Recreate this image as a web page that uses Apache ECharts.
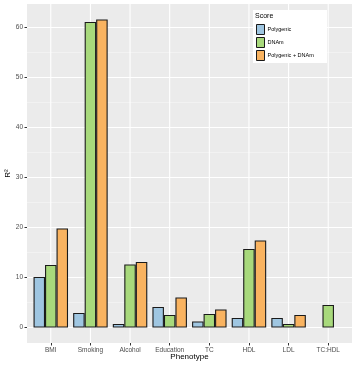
<!DOCTYPE html>
<html><head><meta charset="utf-8">
<script src="https://cdn.jsdelivr.net/npm/echarts@6/dist/echarts.min.js"></script>
<style>html,body{margin:0;padding:0;background:#fff}#c{width:360px;height:365px}</style>
</head><body><div id="c"></div>
<script>
const categories = ['BMI','Smoking','Alcohol','Education','TC','HDL','LDL','TC:HDL'];
const polygenic = [10.1, 2.9, 0.7, 4.1, 1.2, 1.9, 1.9, null];
const dnam = [12.5, 61.1, 12.6, 2.5, 2.7, 15.7, 0.7, 4.5];
const combined = [19.8, 61.6, 13.1, 6.0, 3.6, 17.4, 2.5, null];
const yTicks = [0, 10, 20, 30, 40, 50, 60];
const yMinor = [5, 15, 25, 35, 45, 55];
const seriesNames = ['Polygenic', 'DNAm', 'Polygenic + DNAm'];
const colors = ['#9FC6E1', '#A8D97C', '#F9B360'];

const chart = echarts.init(document.getElementById('c'), null, {renderer: 'canvas'});
const xIdx = categories.map((_, i) => i);
function toData(arr) { return arr.map((v, i) => [i, v]); }
const font = 'Liberation Sans, Arial, sans-serif';

function hLines(values, color, width) {
  return {
    type: 'custom', silent: true, z: 1, clip: false,
    data: values.map(v => [0, v]),
    encode: {x: 0, y: 1},
    renderItem: (params, api) => {
      const cs = params.coordSys;
      const y = api.coord([0, api.value(1)])[1];
      return {type: 'line', shape: {x1: cs.x, y1: y, x2: cs.x + cs.width, y2: y},
              style: {stroke: color, lineWidth: width}};
    }
  };
}
function vLines(values, color, width) {
  return {
    type: 'custom', silent: true, z: 1, clip: false,
    data: values.map(v => [v, 0]),
    encode: {x: 0, y: 1},
    renderItem: (params, api) => {
      const cs = params.coordSys;
      const x = api.coord([api.value(0), 0])[0];
      return {type: 'line', shape: {x1: x, y1: cs.y, x2: x, y2: cs.y + cs.height},
              style: {stroke: color, lineWidth: width}};
    }
  };
}

const series = [
  hLines(yMinor, '#F6F6F6', 0.6),
  hLines(yTicks, '#FFFFFF', 1.1),
  vLines(xIdx, '#FFFFFF', 1.1)
].concat([polygenic, dnam, combined].map((arr, k) => ({
  name: seriesNames[k],
  type: 'bar',
  data: toData(arr),
  barWidth: 11.5,
  barGap: '0%',
  itemStyle: {color: colors[k], borderColor: '#1a1a1a', borderWidth: 1.1},
  emphasis: {disabled: true},
  z: 3
})));

chart.setOption({
  animation: false,
  backgroundColor: '#fff',
  grid: {left: 27, right: 8, top: 4, bottom: 22, show: true, backgroundColor: '#EBEBEB', borderWidth: 0, outerBoundsMode: 'none', containLabel: false},
  xAxis: {
    type: 'value', min: -0.6, max: 7.6,
    axisLine: {show: false, onZero: false},
    axisTick: {show: true, length: 2.5, lineStyle: {color: '#333'}, customValues: xIdx},
    axisLabel: {customValues: xIdx, formatter: v => categories[Math.round(v)] || '', color: '#4D4D4D', fontSize: 6.5, fontFamily: font, margin: 4},
    splitLine: {show: false},
    name: 'Phenotype', nameLocation: 'middle', nameGap: 10, nameMoveOverlap: false,
    nameTextStyle: {color: '#000', fontSize: 8, fontFamily: font}
  },
  yAxis: {
    type: 'value', min: -3.1, max: 64.7,
    axisLine: {show: false, onZero: false},
    axisTick: {show: true, length: 2.5, lineStyle: {color: '#333'}, customValues: yTicks},
    axisLabel: {customValues: yTicks, color: '#4D4D4D', fontSize: 6.5, fontFamily: font, margin: 4},
    splitLine: {show: false},
    name: 'R²', nameLocation: 'middle', nameGap: 15, nameRotate: 90, nameMoveOverlap: false,
    nameTextStyle: {color: '#000', fontSize: 8, fontFamily: font}
  },
  legend: {
    orient: 'vertical', left: 253, top: 22,
    itemWidth: 8, itemHeight: 10, itemGap: 2,
    icon: 'rect',
    data: seriesNames,
    textStyle: {fontSize: 5.5, color: '#000', fontFamily: font, padding: [0, 0, 0, -2]},
    itemStyle: {borderColor: '#1a1a1a', borderWidth: 1},
    selectedMode: false,
    padding: [2, 4, 3, 3],
    z: 10
  },
  graphic: [
    {type: 'rect', left: 253, top: 10, shape: {width: 74, height: 53}, style: {fill: '#fff'}, z: 5, silent: true},
    {type: 'text', left: 255, top: 13, style: {text: 'Score', fontSize: 7, fill: '#000', fontFamily: font}, z: 100}
  ],
  series: series
});
</script></body></html>
